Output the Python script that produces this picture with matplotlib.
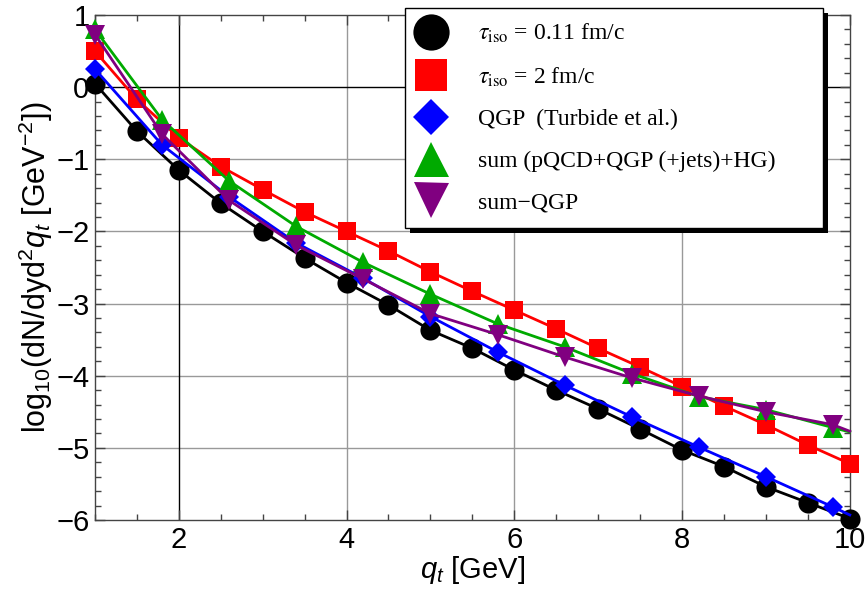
import numpy as np
import matplotlib
matplotlib.use("Agg")
from matplotlib import pyplot as plt
from matplotlib.lines import Line2D
from matplotlib.patches import Rectangle

# Data
qt_a = [1, 1.5, 2, 2.5, 3, 3.5, 4, 4.5, 5, 5.5, 6, 6.5, 7, 7.5, 8, 8.5, 9, 9.5, 10]
tau_011 = [0.05, -0.61, -1.15, -1.61, -2.0, -2.37, -2.71, -3.02, -3.37, -3.62,
           -3.92, -4.2, -4.46, -4.74, -5.03, -5.26, -5.54, -5.76, -5.98]
tau_2 = [0.5, -0.17, -0.7, -1.1, -1.42, -1.73, -2.0, -2.27, -2.56, -2.83,
         -3.09, -3.35, -3.62, -3.88, -4.15, -4.42, -4.68, -4.96, -5.22]

# second grid: last point (qt = 10) only continues the line, no marker
qt_b = [1, 1.8, 2.6, 3.4, 4.2, 5.0, 5.8, 6.6, 7.4, 8.2, 9.0, 9.8, 10]
qgp = [0.25, -0.8, -1.52, -2.16, -2.65, -3.18, -3.67, -4.13, -4.57, -4.99,
       -5.4, -5.82, -5.93]
total = [0.8, -0.45, -1.3, -1.93, -2.43, -2.87, -3.28, -3.6, -3.97, -4.29,
         -4.47, -4.72, -4.78]
sum_minus_qgp = [0.73, -0.65, -1.57, -2.19, -2.66, -3.14, -3.43, -3.74, -4.03,
                 -4.28, -4.5, -4.68, -4.77]

labels = [r"$\tau_{\rm iso}$ = 0.11 fm/c", r"$\tau_{\rm iso}$ = 2 fm/c",
          "QGP  (Turbide et al.)", "sum (pQCD+QGP (+jets)+HG)", "sum\u2212QGP"]

plt.rcParams["mathtext.fontset"] = "custom"
plt.rcParams["mathtext.rm"] = "Liberation Sans"
plt.rcParams["mathtext.it"] = "Liberation Sans:italic"
plt.rcParams["font.family"] = "Liberation Sans"

fig = plt.figure(figsize=(8.68, 5.94), dpi=100)
ax = fig.add_axes([0.1094, 0.1246, 0.8696, 0.8501])

# color, marker, size
styles = [("black", "o", 14.5), ("red", "s", 12.5), ("blue", "D", 10),
          ("#00aa00", "^", 14), ("purple", "v", 14)]
series = [(qt_a, tau_011, False), (qt_a, tau_2, False), (qt_b, qgp, True),
          (qt_b, total, True), (qt_b, sum_minus_qgp, True)]

handles = []
for (x, y, tail), (c, m, ms) in zip(series, styles):
    n = len(x) - 1 if tail else len(x)
    ax.plot(x, y, color=c, lw=2, marker=m, ms=ms, markevery=list(range(n)),
            markeredgewidth=0, clip_on=False, zorder=3)
    handles.append(Line2D([], [], color=c, marker=m, ms=ms, ls="none", markeredgewidth=0))

ax.set_xlim(1, 10)
ax.set_ylim(-6, 1)

# grid + the axes lines through (2, 0)
for gx in [4, 6, 8]:
    ax.axvline(gx, color="#999999", lw=1, zorder=1)
for gy in [-5, -4, -3, -2, -1]:
    ax.axhline(gy, color="#999999", lw=1, zorder=1)
ax.axvline(2, color="black", lw=1, zorder=1.5)
ax.axhline(0, color="black", lw=1, zorder=1.5)

ax.set_xticks([2, 4, 6, 8, 10])
ax.set_xticks(np.arange(1, 10.01, 0.5), minor=True)
ax.set_yticks(np.arange(-6, 1.01, 1))
ax.set_yticks(np.arange(-6, 1.01, 0.2), minor=True)
ax.set_yticklabels([f"\u2212{-v}" if v < 0 else str(v) for v in range(-6, 2)])
ax.tick_params(which="both", direction="in", top=True, right=True, color="#444444",
               labelsize=21, pad=4)
ax.tick_params(which="major", length=7, width=1)
ax.tick_params(which="minor", length=4, width=1)
for sp in ax.spines.values():
    sp.set_color("#444444")
    sp.set_linewidth(1)

ax.set_xlabel(r"$q_t$ [GeV]", fontsize=21, labelpad=0)
ax.set_ylabel(r"log$_{10}$(dN/dyd$^2$$q_t$ [GeV$^{-2}$])", fontsize=22, labelpad=1)

leg = ax.legend(handles, labels, loc="upper left",
                bbox_to_anchor=(0.4106, 1.0139, 0.5536, 0), mode="expand",
                borderaxespad=0,
                prop={"family": "Liberation Serif", "size": 17}, markerscale=1.8,
                handlelength=1.0, handletextpad=1.5, labelspacing=0.85,
                borderpad=0.6, fancybox=False, edgecolor="black", framealpha=1)
leg.get_frame().set_linewidth(1)
for t in leg.get_texts():
    t.set_math_fontfamily("stix")

# solid black drop shadow, about 5 px down and right
fig.canvas.draw()
bb = leg.get_frame().get_window_extent(fig.canvas.get_renderer())
shadow = Rectangle((bb.x0 + 5, bb.y0 - 5), bb.width, bb.height, transform=None,
                   facecolor="black", edgecolor="none", zorder=4.9, clip_on=False)
ax.add_artist(shadow)

fig.savefig("out.png", dpi=100)
